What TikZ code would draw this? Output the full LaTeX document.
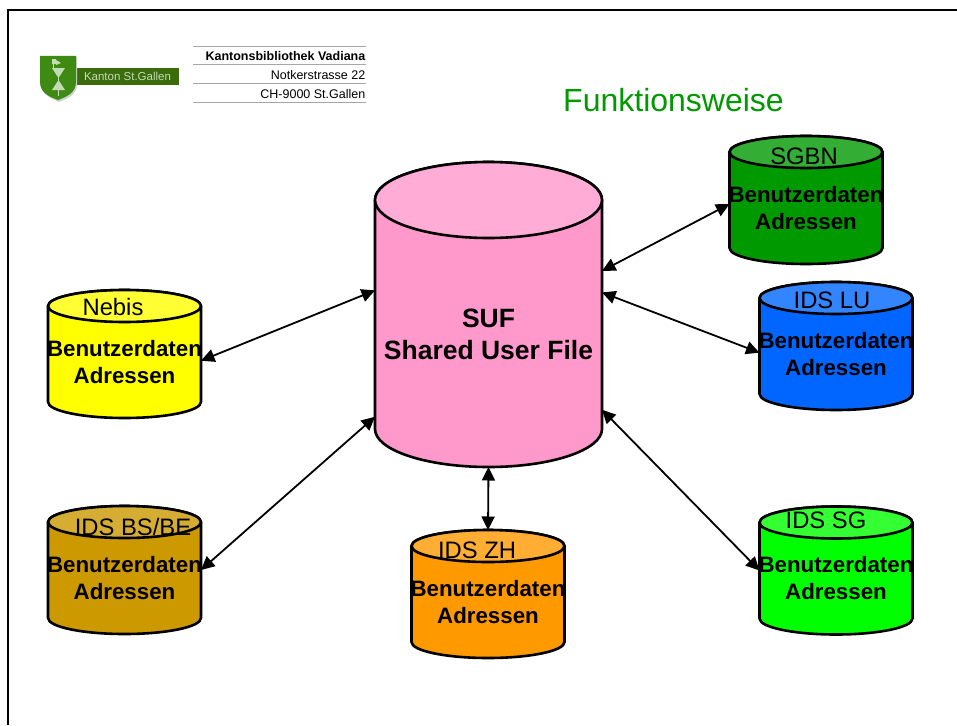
\documentclass[tikz,border=0pt]{standalone}
\usepackage{fontspec}
\setmainfont{Liberation Sans}
\usetikzlibrary{arrows.meta}
\tikzset{
  x=1pt,y=-1pt,
  dbanchor/.style={shape=rectangle,inner sep=0pt,outer sep=0pt},
  dbline/.style={draw=black,line width=2.6pt,line join=round},
  dbtext/.style={font=\fontsize{22.3}{27}\selectfont\bfseries,align=center,inner sep=0pt},
  dbname/.style={font=\fontsize{23.8}{27}\selectfont,inner sep=0pt},
  link/.style={line width=1.8pt,{Triangle[length=13.5pt,width=13pt]}-{Triangle[length=13.5pt,width=13pt]}},
  head/.style={font=\fontsize{12.5}{14}\selectfont,anchor=base east,inner sep=0pt},
  rulegray/.style={draw=black!35,line width=0.7pt}
}
% name, cx, cy, half width, half height, end radius, body colour, top colour
\newcommand{\dbcyl}[8]{%
  \node[dbanchor,minimum width=#4*2pt,minimum height=#5*2pt] (#1) at (#2,#3) {};
  \begin{scope}[shift={(#1.center)},x=1pt,y=1pt]
    \pgfmathsetmacro{\dbk}{#5-#6}
    \path[dbline,fill=#7] (-#4,\dbk) -- (-#4,-\dbk)
      arc[start angle=180,end angle=360,x radius=#4pt,y radius=#6pt]
      -- (#4,\dbk)
      arc[start angle=0,end angle=180,x radius=#4pt,y radius=#6pt] -- cycle;
    \path[dbline,fill=#8] (0,\dbk) ellipse[x radius=#4pt,y radius=#6pt];
  \end{scope}}
\definecolor{sufbody}{HTML}{FF99CC}\definecolor{suftop}{HTML}{FFADD6}
\definecolor{yb}{HTML}{FFFF00}\definecolor{yt}{HTML}{FFFF33}
\definecolor{gb}{HTML}{009900}\definecolor{gt}{HTML}{33AD33}
\definecolor{bb}{HTML}{0066FF}\definecolor{bt}{HTML}{3385FF}
\definecolor{lb}{HTML}{00FF00}\definecolor{lt}{HTML}{33FF33}
\definecolor{ob}{HTML}{FF9900}\definecolor{ot}{HTML}{FFAD33}
\definecolor{kb}{HTML}{CC9900}\definecolor{kt}{HTML}{D6AD33}
\definecolor{logog}{HTML}{3F8A12}\definecolor{logod}{HTML}{3A6B0C}
\definecolor{logow}{HTML}{C4DCB4}
\begin{document}
\begin{tikzpicture}
\useasboundingbox (0,0) rectangle (957,725);
\fill[white] (0,0) rectangle (957,725);
\draw[line width=2pt,black] (8,725) -- (8,10.5) -- (957,10.5);
% logo
\fill[logod] (76,68) rectangle (179,84.5);
\fill[black!18] (42,57) -- (77,57) -- (77,84) .. controls (77,95) and (67,99) .. (59,102) .. controls (52,99) and (41,95) .. (41,84) -- cycle;
\fill[logog] (40,56) -- (76,56) -- (76,82) .. controls (76,93) and (66,97) .. (58,100) .. controls (50,97) and (40,93) .. (40,82) -- cycle;
\fill[logow] (52,59) rectangle (56,64) (56,60) -- (61,63) -- (56,65) -- cycle;
\fill[logow] (52,68) -- (65,68) -- (58.5,78) -- cycle (52,90) -- (65,90) -- (58.5,80) -- cycle;
\draw[logow,line width=0.9pt] (53,60) -- (53,68) (58.5,78) -- (58.5,96);
\node[font=\fontsize{11.5}{13}\selectfont,text=logow,inner sep=0pt] (logotext) at (127.5,76.5) {Kanton St.Gallen};
% header
\draw[rulegray] (193,46.5) -- (365.5,46.5) (193,64.5) -- (365.5,64.5) (193,83.5) -- (365.5,83.5) (193,102.5) -- (365.5,102.5);
\node[head] (h1) at (365.5,60.5) {\bfseries Kantonsbibliothek Vadiana};
\node[head] (h2) at (365.5,79.5) {Notkerstrasse 22};
\node[head] (h3) at (365.5,98.5) {CH-9000 St.Gallen};
\node[font=\fontsize{32}{36}\selectfont,text={rgb,255:red,0;green,153;blue,0},inner sep=0pt] (title) at (673.5,100) {Funktionsweise};
% cylinders
\dbcyl{suf}{488.5}{314.5}{113.5}{152.5}{38}{sufbody}{suftop}
\dbcyl{nebis}{124.5}{354}{76.5}{64}{16}{yb}{yt}
\dbcyl{sgbn}{806}{200}{76.5}{64}{16}{gb}{gt}
\dbcyl{lu}{836}{346}{76.5}{64}{16}{bb}{bt}
\dbcyl{sg}{836}{570.5}{76.5}{64}{16}{lb}{lt}
\dbcyl{zh}{488}{594}{76.5}{64}{16}{ob}{ot}
\dbcyl{bsbe}{124.5}{570}{76.5}{64}{16}{kb}{kt}
% texts
\node[font=\fontsize{26.5}{32}\selectfont\bfseries,align=center,inner sep=0pt] (suftext) at (488.5,334) {SUF\\Shared User File};
\node[dbname] (n1) at (113,307) {Nebis};
\node[dbtext] (t1) at (124.5,362) {Benutzerdaten\\Adressen};
\node[dbname] (n2) at (804,156) {SGBN};
\node[dbtext] (t2) at (806,208) {Benutzerdaten\\Adressen};
\node[dbname] (n3) at (832,300) {IDS LU};
\node[dbtext] (t3) at (836,354) {Benutzerdaten\\Adressen};
\node[dbname] (n4) at (826,520) {IDS SG};
\node[dbtext] (t4) at (836,578) {Benutzerdaten\\Adressen};
\node[dbname] (n5) at (477,550) {IDS ZH};
\node[dbtext] (t5) at (488,602) {Benutzerdaten\\Adressen};
\node[dbname] (n6) at (133,527) {IDS BS/BE};
\node[dbtext] (t6) at (124.5,578) {Benutzerdaten\\Adressen};
% links
\draw[link] (suf.21.2) -- (sgbn.183.8);
\draw[link] (suf.11.7) -- (lu.185);
\draw[link] (suf.-40.4) -- (sg.west);
\draw[link] (suf.south) -- (zh.north);
\draw[link] (suf.222) -- (bsbe.east);
\draw[link] (suf.168.8) -- (nebis.-5);
\end{tikzpicture}
\end{document}
